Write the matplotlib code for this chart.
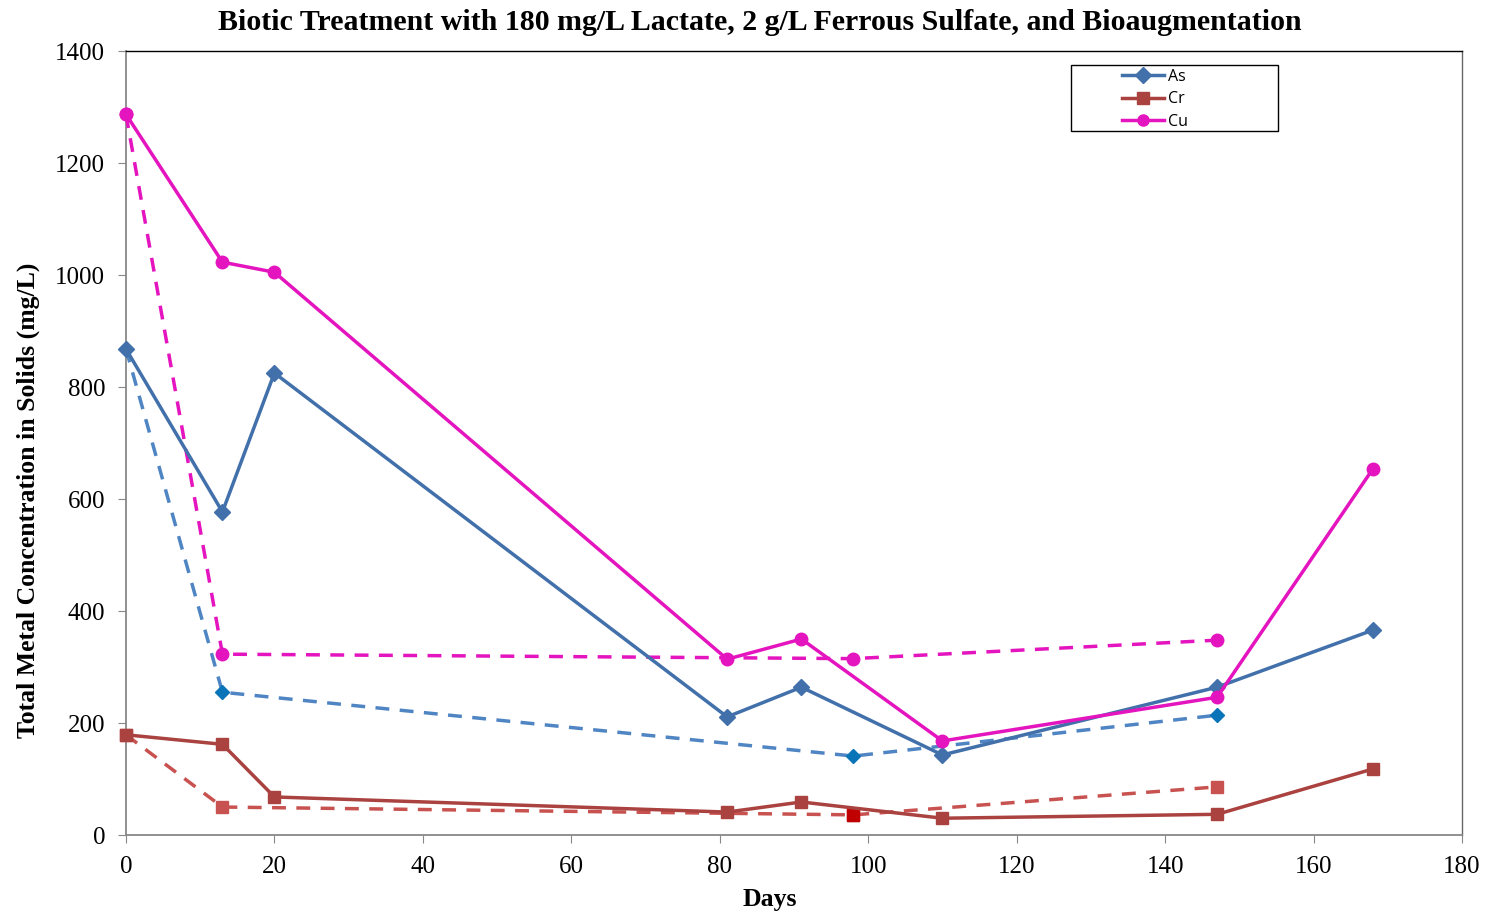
from matplotlib import pyplot as pp
from matplotlib import rc
from matplotlib.patches import Rectangle

rc('font', **{'family': 'serif', 'serif': ['Liberation Serif', 'DejaVu Serif']})

# solid series: sampling days 0..168
days = [0, 13, 20, 81, 91, 110, 147, 168]
as_solid = [868, 577, 825, 211, 264, 143, 264, 366]
cr_solid = [179, 162, 68, 41, 59, 30, 37, 118]
cu_solid = [1287, 1023, 1005, 314, 350, 168, 246, 654]

# dashed series: fewer sampling days
days_dash = [0, 13, 98, 147]
as_dash = [868, 255, 141, 214]
cr_dash = [179, 50, 36, 86]
cu_dash = [1287, 323, 315, 348]

xticks = [0, 20, 40, 60, 80, 100, 120, 140, 160, 180]
yticks = [0, 200, 400, 600, 800, 1000, 1200, 1400]

asColor = '#4270AA'
crColor = '#AA4240'
cuColor = '#E414BE'
asDash = '#5085C3'
crDash = '#C8524F'

fig = pp.figure(figsize=(14.87, 9.13), dpi=100)
ax = fig.add_axes([0.0847, 0.0854, 0.8985, 0.8587])

lw = 2.5
ax.plot(days_dash, as_dash, '--', color=asDash, linewidth=lw, dashes=(4, 3),
        marker='D', markersize=7, markerfacecolor='#0A74B8', markeredgecolor='#0A74B8', zorder=3)
ax.plot(days_dash, cr_dash, '--', color=crDash, linewidth=lw, dashes=(4, 3),
        marker='s', markersize=9, markerfacecolor=crDash, markeredgecolor=crDash, zorder=3)
# the day 98 Cr point is a darker red in the original
ax.plot([days_dash[2]], [cr_dash[2]], linestyle='none', marker='s', markersize=9,
        color='#C00000', zorder=4)
ax.plot(days_dash, cu_dash, '--', color=cuColor, linewidth=lw, dashes=(4, 3),
        marker='o', markersize=9, zorder=3)

ax.plot(days, as_solid, '-', color=asColor, linewidth=lw, marker='D', markersize=8, label='As', zorder=5)
ax.plot(days, cr_solid, '-', color=crColor, linewidth=lw, marker='s', markersize=9, label='Cr', zorder=5)
ax.plot(days, cu_solid, '-', color=cuColor, linewidth=lw, marker='o', markersize=9, label='Cu', zorder=5)

ax.set_xlim([0, 180])
ax.set_ylim([0, 1400])
ax.set_xticks(xticks)
ax.set_yticks(yticks)
ax.tick_params(direction='out', length=6, color='#888888', labelsize=18, pad=9)
ax.spines['top'].set_color('black')
ax.spines['top'].set_linewidth(1.0)
ax.spines['right'].set_color('#666666')
ax.spines['right'].set_linewidth(1.0)
for sp in ['left', 'bottom']:
  ax.spines[sp].set_color('#888888')
  ax.spines[sp].set_linewidth(1.3)
for p in ax.lines:
  p.set_clip_on(False)

fig.text(0.511, 0.975, 'Biotic Treatment with 180 mg/L Lactate, 2 g/L Ferrous Sulfate, and Bioaugmentation',
         fontsize=21.5, fontweight='bold', ha='center', va='center')
fig.text(0.518, 0.015, 'Days', fontsize=18.5, fontweight='bold', ha='center', va='center')
fig.text(0.019, 0.452, 'Total Metal Concentration in Solids (mg/L)', fontsize=18.5, fontweight='bold',
         ha='center', va='center', rotation=90)

# legend box drawn separately, wider than the entries like the original
ax.add_patch(Rectangle((0.7073, 0.898), 0.155, 0.0841, transform=ax.transAxes,
                       facecolor='white', edgecolor='black', linewidth=1.0, clip_on=False, zorder=6))
leg = ax.legend(loc='upper left', bbox_to_anchor=(0.7455, 0.977), frameon=False,
                prop={'family': 'Open Sans', 'size': 11.5},
                handlelength=2.6, handletextpad=0.3, borderpad=0, labelspacing=0.4,
                borderaxespad=0)
leg.set_zorder(7)
for h in leg.legend_handles:
  h.set_markersize(8)

fig.savefig('out.png', dpi=100)
